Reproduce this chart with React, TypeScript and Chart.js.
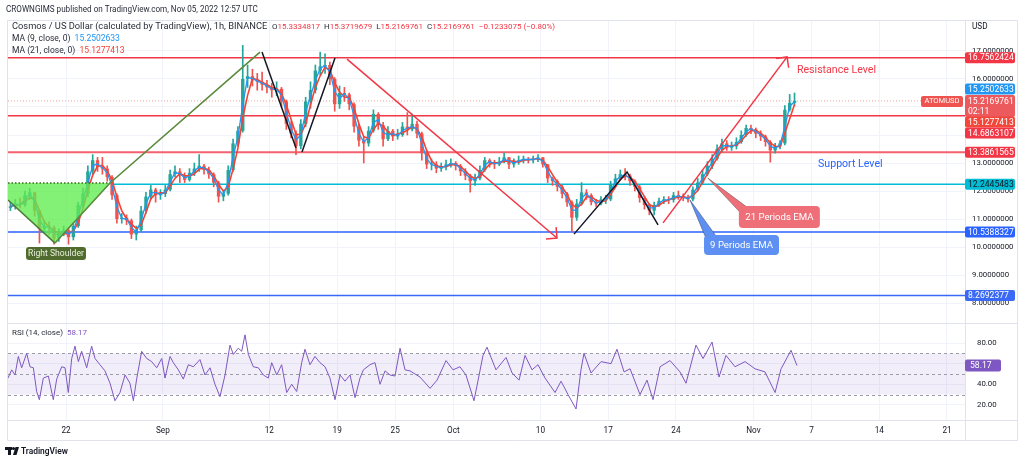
import React, { useEffect, useRef } from 'react';
import { Chart, registerables } from 'chart.js';

Chart.register(...registerables);

// ---------- axis / ticks ----------
const tickDays = [6, 16, 27, 34, 40, 46, 55, 62, 69, 77, 83, 90, 97]; // days since Aug 16, 2022
const tickLabels = ['22', 'Sep', '12', '19', '25', 'Oct', '10', '17', '24', 'Nov', '7', '14', '21'];
const priceTicks = [8, 9, 10, 11, 12, 13, 14, 15, 16, 17];
const rsiTicks = [20, 40, 60, 80];

// ---------- price series (12h candles, starting Aug 16 00:00) ----------
const candleStep = 0.5;
const firstOpen = 11.4;
const closes = [
  11.45, 11.55, 11.5, 11.85, 11.95, 11.3, 10.65, 10.75, 10.7, 10.3,
  10.5, 10.6, 10.35, 10.75, 11.5, 11.9, 12.7, 13.1, 12.85, 12.8,
  12.5, 11.85, 11.0, 11.05, 10.95, 10.45, 10.6, 11.3, 11.8, 12.05,
  11.85, 11.9, 12.05, 12.6, 12.7, 12.55, 12.4, 12.65, 12.8, 12.9,
  12.75, 12.6, 12.3, 11.8, 11.9, 12.75, 13.7, 14.15, 16.0, 16.1,
  15.95, 15.9, 15.8, 15.7, 15.6, 15.65, 15.2, 14.4, 14.05, 13.6,
  14.4, 15.2, 15.6, 16.3, 16.45, 16.5, 16.0, 15.1, 15.5, 15.45,
  15.1, 14.3, 13.8, 13.7, 14.15, 14.75, 14.35, 13.85, 14.15, 13.95,
  14.0, 14.3, 14.2, 14.4, 14.05, 13.35, 12.95, 12.95, 12.8, 12.85,
  12.95, 13.0, 12.9, 12.7, 12.55, 12.35, 12.45, 12.75, 13.1, 13.0,
  12.95, 13.05, 13.2, 12.95, 13.05, 13.1, 13.15, 13.1, 13.15, 13.2,
  12.95, 12.45, 12.35, 12.15, 11.9, 11.6, 11.05, 11.55, 11.95, 11.85,
  11.6, 11.55, 11.7, 11.7, 12.25, 12.45, 12.6, 12.55, 12.35, 12.15,
  11.75, 11.5, 11.3, 11.5, 11.65, 11.7, 11.68, 11.85, 11.8, 11.75,
  11.7, 12.05, 12.3, 12.6, 12.9, 13.15, 13.5, 13.7, 13.55, 13.6,
  13.75, 14.0, 14.25, 14.2, 14.05, 13.95, 13.75, 13.45, 13.6, 13.7,
  14.9, 15.15, 15.22,
];
const highs = [
  11.6, 11.7, 11.75, 12.0, 12.1, 11.95, 11.3, 10.95, 10.9, 10.75,
  10.65, 10.75, 10.7, 10.85, 11.6, 12.1, 12.9, 13.3, 13.2, 13.2,
  12.9, 12.55, 11.9, 11.2, 11.15, 11.0, 10.75, 11.45, 11.95, 12.2,
  12.1, 12.05, 12.2, 12.75, 12.9, 12.8, 12.65, 12.8, 13.0, 13.3,
  12.95, 12.85, 12.65, 12.35, 12.0, 12.9, 13.85, 14.3, 17.2, 16.5,
  16.35, 16.2, 16.25, 15.95, 15.85, 15.9, 15.7, 15.25, 14.5, 14.15,
  14.55, 15.35, 15.9, 16.5, 16.96, 16.9, 16.6, 16.05, 15.75, 15.7,
  15.5, 15.15, 14.4, 13.95, 14.3, 14.9, 14.8, 14.45, 14.3, 14.2,
  14.2, 14.45, 14.8, 14.75, 14.5, 14.1, 13.45, 13.15, 13.05, 13.0,
  13.1, 13.15, 13.05, 12.95, 12.8, 12.6, 12.6, 12.9, 13.2, 13.15,
  13.1, 13.2, 13.35, 13.2, 13.15, 13.25, 13.25, 13.2, 13.25, 13.3,
  13.2, 12.95, 12.5, 12.4, 12.2, 11.95, 11.65, 11.7, 12.3, 12.05,
  11.9, 11.7, 11.8, 11.85, 12.35, 12.6, 12.75, 12.8, 12.6, 12.4,
  12.2, 11.8, 11.55, 11.6, 11.75, 11.8, 11.8, 11.95, 12.0, 11.9,
  11.85, 12.15, 12.45, 12.75, 13.05, 13.3, 13.65, 13.85, 13.8, 13.75,
  13.9, 14.15, 14.35, 14.35, 14.25, 14.15, 14.0, 13.8, 13.7, 13.8,
  15.05, 15.45, 15.5,
];
const lows = [
  11.3, 11.35, 11.4, 11.45, 11.7, 11.1, 10.14, 10.5, 10.45, 10.1,
  10.2, 10.4, 10.1, 10.25, 10.7, 11.4, 11.8, 12.6, 12.7, 12.6,
  12.35, 11.7, 10.85, 10.85, 10.8, 10.3, 10.25, 10.55, 11.2, 11.7,
  11.6, 11.7, 11.8, 12.0, 12.5, 12.3, 12.3, 12.35, 12.55, 12.7,
  12.6, 12.45, 12.15, 11.6, 11.65, 11.85, 12.7, 13.6, 14.1, 15.7,
  15.75, 15.6, 15.6, 15.5, 15.35, 15.4, 15.0, 14.2, 13.9, 13.3,
  13.5, 14.3, 14.95, 15.5, 16.15, 16.2, 15.8, 14.85, 14.95, 15.2,
  14.9, 14.1, 13.6, 13.0, 13.6, 14.1, 14.2, 13.6, 13.8, 13.8,
  13.85, 13.95, 14.0, 14.15, 13.9, 13.1, 12.8, 12.75, 12.65, 12.7,
  12.75, 12.85, 12.75, 12.55, 12.4, 11.96, 12.2, 12.4, 12.7, 12.85,
  12.8, 12.9, 13.0, 12.8, 12.85, 12.95, 13.0, 13.0, 13.0, 13.05,
  12.85, 12.3, 12.2, 12.0, 11.75, 11.45, 10.54, 10.95, 11.5, 11.7,
  11.5, 11.45, 11.5, 11.55, 11.65, 12.2, 12.4, 12.4, 12.2, 12.0,
  11.6, 11.35, 11.15, 11.15, 11.45, 11.55, 11.55, 11.6, 11.7, 11.65,
  11.6, 11.65, 12.0, 12.25, 12.55, 12.8, 13.1, 13.4, 13.45, 13.45,
  13.5, 13.7, 13.95, 14.05, 13.9, 13.8, 13.6, 13.03, 13.35, 13.5,
  13.65, 14.85, 15.05,
];

// ---------- RSI (14) ----------
const rsiDay = [
  0.0, 0.38, 0.72, 1.07, 1.41, 1.93, 2.27, 2.62, 2.96, 3.24,
  3.65, 4.17, 4.68, 5.03, 5.55, 5.89, 6.23, 6.58, 6.92, 7.27,
  7.61, 8.13, 8.64, 8.99, 9.5, 10.02, 10.54, 11.05, 11.57, 12.09,
  12.6, 12.95, 13.29, 13.81, 14.33, 14.84, 15.36, 15.88, 16.22, 16.74,
  17.08, 17.6, 18.11, 18.63, 19.15, 19.83, 20.35, 20.87, 21.38, 21.9,
  22.42, 22.93, 23.28, 23.79, 24.14, 24.48, 24.83, 25.34, 25.86, 26.38,
  26.89, 27.24, 27.76, 28.27, 28.79, 29.31, 29.82, 30.34, 30.68, 31.2,
  31.71, 32.23, 32.75, 33.26, 33.78, 34.3, 34.81, 35.33, 35.85, 36.36,
  36.71, 37.4, 37.91, 38.43, 38.95, 39.46, 39.98, 40.5, 41.01, 41.53,
  42.56, 43.6, 44.32, 45.25, 45.97, 46.69, 47.31, 48.14, 49.07, 49.48,
  50.41, 51.45, 52.07, 52.79, 53.41, 54.13, 54.75, 55.48, 56.51, 57.13,
  57.85, 58.68, 59.19, 59.5, 60.23, 61.26, 62.29, 62.91, 63.64, 64.26,
  65.29, 66.01, 66.63, 67.36, 68.39, 69.42, 70.04, 71.07, 71.8, 72.73,
  73.45, 74.17, 75.1, 76.14, 77.17, 78.2, 79.24, 79.86, 80.89, 81.5,
];
const rsiValue = [
  46, 54, 49, 67, 56, 70, 57, 56, 33, 25,
  46, 48, 25, 45, 57, 56, 32, 65, 77, 62,
  72, 56, 77, 65, 59, 53, 41, 24, 32, 49,
  41, 24, 45, 72, 65, 62, 56, 65, 46, 67,
  61, 54, 45, 59, 57, 64, 49, 56, 40, 28,
  49, 78, 69, 75, 72, 88, 69, 57, 56, 49,
  46, 61, 49, 59, 32, 40, 33, 61, 74, 59,
  67, 61, 57, 46, 25, 49, 43, 49, 27, 46,
  54, 59, 61, 40, 53, 49, 48, 75, 54, 53,
  47, 36, 44, 63, 54, 57, 49, 24, 68, 76,
  54, 66, 51, 44, 68, 54, 59, 46, 32, 43,
  30, 16, 54, 70, 51, 62, 60, 74, 52, 55,
  30, 44, 25, 57, 63, 52, 41, 78, 65, 81,
  47, 68, 57, 62, 55, 52, 32, 55, 73, 58.17,
];

// ---------- horizontal levels ----------
const levelValues = [16.7562424, 14.6863107, 13.3861565, 12.2445483, 10.5388327, 8.2692377];
const levelStartDay = [0, 0, 0, 10.8, 0, 0];
const lastPrice = 15.2169761;
const ma9Last = 15.2502633;
const ma21Last = 15.1277413;
const rsiLast = 58.17;

// ---------- drawings (day, price) ----------
const greenTrendDay = [4.86, 10.54, 26.03];
const greenTrendPrice = [10.14, 12.286, 16.96];
const triangleDay = [0, 10.54, 4.86, 0];
const trianglePrice = [12.286, 12.286, 10.14, 11.68];
const blackADay = [26.24, 29.75];
const blackAPrice = [16.96, 13.54];
const blackBDay = [30.37, 33.78];
const blackBPrice = [13.39, 16.75];
const blackCDay = [58.47, 63.95, 67.15];
const blackCPrice = [10.46, 12.68, 10.79];
const redDownDay = [35.02, 56.71];
const redDownPrice = [16.71, 10.32];
const redUpDay = [67.67, 80.48];
const redUpPrice = [10.86, 16.79];

const FONT = 'Roboto, "Liberation Sans", Arial, sans-serif';
const X_MAX = 98.86;
const Y_MIN = 7.286;
const Y_MAX = 18.107;

function sma(arr: number[], n: number) {
  return arr.map((_, i) => {
    const s = Math.max(0, i - n + 1);
    let sum = 0;
    for (let k = s; k <= i; k++) sum += arr[k];
    return sum / (i - s + 1);
  });
}

function pts(days: number[], vals: number[]) {
  return days.map((d, i) => ({ x: d, y: vals[i] }));
}

function rrect(ctx: CanvasRenderingContext2D, x: number, y: number, w: number, h: number, r: number) {
  ctx.beginPath();
  ctx.moveTo(x + r, y);
  ctx.arcTo(x + w, y, x + w, y + h, r);
  ctx.arcTo(x + w, y + h, x, y + h, r);
  ctx.arcTo(x, y + h, x, y, r);
  ctx.arcTo(x, y, x + w, y, r);
  ctx.closePath();
}

function text(ctx: CanvasRenderingContext2D, s: string, x: number, y: number, color: string, size: number, align: CanvasTextAlign = 'left', weight = 'normal') {
  ctx.font = `${weight} ${size}px ${FONT}`;
  ctx.fillStyle = color;
  ctx.textAlign = align;
  ctx.textBaseline = 'middle';
  ctx.fillText(s, x, y);
}

function segments(ctx: CanvasRenderingContext2D, parts: [string, string, number][], x: number, y: number) {
  let cx = x;
  ctx.textAlign = 'left';
  ctx.textBaseline = 'middle';
  for (const [s, c, size] of parts) {
    ctx.font = `normal ${size}px ${FONT}`;
    ctx.fillStyle = c;
    ctx.fillText(s, cx, y);
    cx += ctx.measureText(s).width;
  }
}

function arrowHead(ctx: CanvasRenderingContext2D, x0: number, y0: number, x1: number, y1: number, color: string) {
  const a = Math.atan2(y1 - y0, x1 - x0) + Math.PI;
  const len = 11;
  ctx.save();
  ctx.strokeStyle = color;
  ctx.lineWidth = 1.5;
  ctx.beginPath();
  ctx.moveTo(x1 + Math.cos(a - Math.PI / 4) * len, y1 + Math.sin(a - Math.PI / 4) * len);
  ctx.lineTo(x1, y1);
  ctx.lineTo(x1 + Math.cos(a + Math.PI / 4) * len, y1 + Math.sin(a + Math.PI / 4) * len);
  ctx.stroke();
  ctx.restore();
}

const overlayPlugin = {
  id: 'overlay',
  beforeDraw(chart: any) {
    const { ctx } = chart;
    ctx.save();
    ctx.fillStyle = '#ffffff';
    ctx.fillRect(0, 0, chart.width, chart.height);
    ctx.restore();
  },
  beforeDatasetsDraw(chart: any) {
    const { ctx, chartArea } = chart;
    const yr = chart.scales.yRsi;
    const y70 = yr.getPixelForValue(70);
    const y50 = yr.getPixelForValue(50);
    const y30 = yr.getPixelForValue(30);
    ctx.save();
    ctx.fillStyle = 'rgba(126,87,194,0.1)';
    ctx.fillRect(chartArea.left, y70, chartArea.right - chartArea.left, y30 - y70);
    ctx.strokeStyle = '#9b9ea6';
    ctx.lineWidth = 1;
    ctx.setLineDash([3, 3]);
    for (const y of [y70, y50, y30]) {
      ctx.beginPath();
      ctx.moveTo(chartArea.left, Math.round(y) + 0.5);
      ctx.lineTo(chartArea.right, Math.round(y) + 0.5);
      ctx.stroke();
    }
    ctx.restore();
  },
  afterDraw(chart: any) {
    const { ctx, chartArea } = chart;
    const xs = chart.scales.x;
    const ys = chart.scales.y;
    const yr = chart.scales.yRsi;
    const X = (d: number) => xs.getPixelForValue(d);
    const Y = (p: number) => ys.getPixelForValue(p);
    ctx.save();

    // frame
    ctx.strokeStyle = '#e0e3eb';
    ctx.lineWidth = 1;
    const sep = Math.round(yr.top) + 0.5;
    const bot = Math.round(chartArea.bottom) + 0.5;
    ctx.beginPath();
    ctx.rect(7.5, 20.5, 1010, bot + 20 - 20.5);
    ctx.moveTo(7.5, sep); ctx.lineTo(1017.5, sep);
    ctx.moveTo(7.5, bot); ctx.lineTo(1017.5, bot);
    ctx.moveTo(Math.round(chartArea.right) + 0.5, 20.5); ctx.lineTo(Math.round(chartArea.right) + 0.5, bot + 20);
    ctx.stroke();

    // arrowheads
    arrowHead(ctx, X(redDownDay[0]), Y(redDownPrice[0]), X(redDownDay[1]), Y(redDownPrice[1]), '#f23645');
    arrowHead(ctx, X(redUpDay[0]), Y(redUpPrice[0]), X(redUpDay[1]), Y(redUpPrice[1]), '#f23645');

    // Right Shoulder label
    ctx.fillStyle = '#4f6b2d';
    rrect(ctx, X(1.86), Y(10.0), 60, 13, 3);
    ctx.fill();
    text(ctx, 'Right Shoulder', X(1.86) + 30, Y(10.0) + 7, '#e9f1dc', 8.6, 'center');

    // callouts
    const tip21x = X(72.3), tip21y = Y(12.46);
    const b21x = X(75.5), b21y = Y(11.46);
    ctx.fillStyle = '#ef6f79';
    ctx.beginPath();
    ctx.moveTo(tip21x, tip21y);
    ctx.lineTo(b21x + 8, b21y + 1);
    ctx.lineTo(b21x + 1, b21y + 6);
    ctx.closePath();
    ctx.fill();
    ctx.strokeStyle = 'rgba(110,80,80,0.7)';
    ctx.lineWidth = 0.8;
    ctx.stroke();
    rrect(ctx, b21x, b21y, 81, 22, 4);
    ctx.fill();
    text(ctx, '21 Periods EMA', b21x + 40.5, b21y + 11.5, '#ffffff', 9.6, 'center');

    const tip9x = X(70.45), tip9y = Y(11.68);
    const b9x = X(71.9), b9y = Y(10.43);
    ctx.fillStyle = '#5d90f2';
    ctx.beginPath();
    ctx.moveTo(tip9x, tip9y);
    ctx.lineTo(b9x + 12, b9y + 1);
    ctx.lineTo(b9x + 1, b9y + 1);
    ctx.closePath();
    ctx.fill();
    ctx.strokeStyle = 'rgba(60,80,130,0.7)';
    ctx.stroke();
    rrect(ctx, b9x, b9y, 75, 20, 4);
    ctx.fill();
    text(ctx, '9 Periods EMA', b9x + 37.5, b9y + 10.5, '#ffffff', 9.6, 'center');

    // level texts
    text(ctx, 'Resistance Level', X(81.5), Y(16.32), '#f23645', 10.6);
    text(ctx, 'Support Level', X(83.68), Y(12.96), '#2962ff', 10.6);

    // header & legends
    text(ctx, 'CROWNGIMS published on TradingView.com, Nov 05, 2022 12:57 UTC', 6, 10, '#2a2e39', 8.15);
    const dark = '#2a2e39';
    const red = '#f23645';
    segments(ctx, [
      ['Cosmos / US Dollar (calculated by TradingView), 1h, BINANCE  ', dark, 9.3],
      ['O', dark, 8.0], ['15.3334817', red, 8.0], ['  H', dark, 8.0], ['15.3719679', red, 8.0], ['  L', dark, 8.0], ['15.2169761', red, 8.0],
      ['  C', dark, 8.0], ['15.2169761', red, 8.0], ['  \u22120.1233075 (\u22120.80%)', red, 8.0],
    ], 12, 27);
    segments(ctx, [['MA (9, close, 0)  ', dark, 8.5], [ma9Last.toFixed(7), '#2196f3', 8.5]], 12, 39);
    segments(ctx, [['MA (21, close, 0)  ', dark, 8.5], [ma21Last.toFixed(7), '#f44336', 8.5]], 12, 51);
    segments(ctx, [['RSI (14, close)  ', dark, 8.0], [rsiLast.toFixed(2), '#7e57c2', 8.0]], 12, Math.round(yr.top) + 10);

    // ATOMUSD tag
    const py = Y(lastPrice);
    ctx.fillStyle = '#ef5350';
    rrect(ctx, 921, py - 5, 42, 11, 2);
    ctx.fill();
    text(ctx, 'ATOMUSD', 942, py + 0.5, '#ffffff', 7.6, 'center');

    // right axis labels
    text(ctx, 'USD', 972, 27, '#131722', 8.2);
    const boxX = 965, boxW = 50;
    const box = (cy: number, bg: string, label: string, fg = '#ffffff') => {
      ctx.fillStyle = bg;
      rrect(ctx, boxX, cy - 5.5, boxW, 11, 2);
      ctx.fill();
      text(ctx, label, boxX + 3, cy + 0.5, fg, 8.6);
    };
    box(Y(levelValues[0]), '#f23645', levelValues[0].toFixed(7));
    box(py - 12, '#2196f3', ma9Last.toFixed(7));
    ctx.fillStyle = '#ec5a5d';
    rrect(ctx, boxX, py - 6, boxW, 22, 2);
    ctx.fill();
    text(ctx, lastPrice.toFixed(7), boxX + 3, py + 0.5, '#ffffff', 8.6);
    text(ctx, '02:11', boxX + 3, py + 10.5, '#ffffff', 8.6);
    box(py + 21, '#f4473a', ma21Last.toFixed(7));
    box(py + 32, '#f23645', levelValues[1].toFixed(7));
    box(Y(levelValues[2]), '#f23645', levelValues[2].toFixed(7));
    box(Y(levelValues[3]), '#00bcd4', levelValues[3].toFixed(7), '#131722');
    box(Y(levelValues[4]), '#2962ff', levelValues[4].toFixed(7));
    box(Y(levelValues[5]), '#3a6af5', levelValues[5].toFixed(7));
    const ry = yr.getPixelForValue(rsiLast);
    ctx.fillStyle = '#7e57c2';
    rrect(ctx, boxX, ry - 6, 36, 12, 2);
    ctx.fill();
    text(ctx, rsiLast.toFixed(2), boxX + 5, ry + 0.5, '#ffffff', 8.6);

    // footer logo
    ctx.fillStyle = '#131722';
    ctx.fillRect(5, 447, 7, 3);
    ctx.fillRect(8, 447, 3, 8);
    ctx.beginPath();
    ctx.arc(13.5, 448.5, 1.6, 0, Math.PI * 2);
    ctx.fill();
    ctx.beginPath();
    ctx.moveTo(15.5, 447); ctx.lineTo(19, 447); ctx.lineTo(16.5, 455); ctx.lineTo(13, 455);
    ctx.closePath();
    ctx.fill();
    text(ctx, 'TradingView', 21, 451.5, '#131722', 8.4, 'left', '600');
    ctx.restore();
  },
};

export default function App() {
  const ref = useRef<HTMLCanvasElement>(null);

  useEffect(() => {
    document.body.style.margin = '0';
    const opens = closes.map((_, i) => (i === 0 ? firstOpen : closes[i - 1]));
    const candleDay = closes.map((_, i) => i * candleStep + candleStep / 2);
    const colors = closes.map((c, i) => (c >= opens[i] ? '#26a69a' : '#ef5350'));
    const hi = highs.map((h, i) => Math.max(h, opens[i], closes[i]));
    const lo = lows.map((l, i) => Math.min(l, opens[i], closes[i]));
    const ma9 = sma(closes, 2);
    const ma21 = sma(closes, 3);

    const levelColors = ['#f23645', '#f23645', '#f5616c', '#00bcd4', '#2962ff', '#3a6af5'];
    const levelWidths = [1.5, 1.5, 2, 1.5, 1.5, 1.5];

    const lineDs = (data: any[], color: string, width: number, order: number, extra: any = {}) => ({
      type: 'line',
      data,
      borderColor: color,
      borderWidth: width,
      pointRadius: 0,
      tension: 0,
      fill: false,
      yAxisID: 'y',
      order,
      ...extra,
    });

    const datasets: any[] = [
      // levels
      ...levelValues.map((v, k) =>
        lineDs([{ x: levelStartDay[k], y: v }, { x: X_MAX, y: v }], levelColors[k], levelWidths[k], 20)
      ),
      lineDs([{ x: 0, y: lastPrice }, { x: X_MAX, y: lastPrice }], 'rgba(239,83,80,0.55)', 1, 19, { borderDash: [1, 2] }),
      // wicks
      {
        type: 'bar',
        data: candleDay.map((d, i) => ({ x: d, y: [lo[i], hi[i]] })),
        backgroundColor: colors,
        barThickness: 1,
        grouped: false,
        yAxisID: 'y',
        order: 12,
      },
      // bodies
      {
        type: 'bar',
        data: candleDay.map((d, i) => ({ x: d, y: [opens[i], closes[i]] })),
        backgroundColor: colors,
        barPercentage: 0.7,
        categoryPercentage: 1,
        minBarLength: 1,
        grouped: false,
        yAxisID: 'y',
        order: 11,
      },
      lineDs(candleDay.map((d, i) => ({ x: d, y: ma21[i] })), '#f44336', 1.6, 9),
      lineDs(candleDay.map((d, i) => ({ x: d, y: ma9[i] })), '#2196f3', 1.3, 8),
      // inverse head & shoulders triangle
      lineDs(pts(triangleDay, trianglePrice), 'rgba(0,0,0,0)', 0, 6, {
        fill: 'shape',
        backgroundColor: 'rgba(96,236,80,0.78)',
      }),
      lineDs(pts([triangleDay[0], triangleDay[1]], [trianglePrice[0], trianglePrice[1]]), '#3d6b22', 1.5, 5, { borderDash: [1.5, 2] }),
      lineDs(pts([triangleDay[3], triangleDay[2]], [trianglePrice[3], trianglePrice[2]]), '#4c7a34', 1.5, 5),
      lineDs(pts(greenTrendDay, greenTrendPrice), '#5b8a3c', 1.6, 4),
      lineDs(pts(blackADay, blackAPrice), '#131722', 1.5, 3),
      lineDs(pts(blackBDay, blackBPrice), '#131722', 1.5, 3),
      lineDs(pts(blackCDay, blackCPrice), '#131722', 1.5, 3),
      lineDs(pts(redDownDay, redDownPrice), '#f23645', 1.5, 2),
      lineDs(pts(redUpDay, redUpPrice), '#f23645', 1.5, 2),
      // RSI
      {
        type: 'line',
        data: pts(rsiDay, rsiValue),
        borderColor: '#7e57c2',
        borderWidth: 1,
        pointRadius: 0,
        tension: 0,
        fill: false,
        yAxisID: 'yRsi',
        order: 1,
      },
    ];

    const tickFont = { family: FONT, size: 7.8 };
    const chart = new Chart(ref.current as HTMLCanvasElement, {
      type: 'bar',
      data: { datasets },
      plugins: [overlayPlugin],
      options: {
        responsive: false,
        animation: false,
        devicePixelRatio: 1,
        events: [],
        layout: { padding: { left: 8, top: 20, right: 6, bottom: 23 } },
        plugins: { legend: { display: false }, tooltip: { enabled: false } },
        scales: {
          x: {
            type: 'linear',
            min: 0,
            max: X_MAX,
            offset: false,
            grid: { color: '#f0f3fa', drawTicks: false, offset: false },
            border: { display: false },
            afterBuildTicks: (a: any) => {
              a.ticks = tickDays.map((v) => ({ value: v }));
            },
            afterFit: (a: any) => {
              a.height = 20;
            },
            ticks: {
              autoSkip: false,
              maxRotation: 0,
              padding: 6,
              color: '#131722',
              font: { family: FONT, size: 8.2 },
              callback: (_v: any, i: number) => tickLabels[i],
            },
          },
          y: {
            type: 'linear',
            position: 'right',
            stack: 'main',
            stackWeight: 303,
            min: Y_MIN,
            max: Y_MAX,
            grid: { color: '#f0f3fa', drawTicks: false },
            border: { display: false },
            afterBuildTicks: (a: any) => {
              a.ticks = priceTicks.map((v) => ({ value: v }));
            },
            afterFit: (a: any) => {
              a.width = 53;
            },
            ticks: {
              padding: 7,
              color: '#131722',
              font: tickFont,
              autoSkip: false,
              callback: (v: any) => Number(v).toFixed(7),
            },
          },
          yRsi: {
            type: 'linear',
            position: 'right',
            stack: 'main',
            stackWeight: 97,
            min: 5.3,
            max: 99.5,
            grid: { color: '#f0f3fa', drawTicks: false },
            border: { display: false },
            afterBuildTicks: (a: any) => {
              a.ticks = rsiTicks.map((v) => ({ value: v }));
            },
            afterFit: (a: any) => {
              a.width = 53;
            },
            ticks: {
              padding: 12,
              color: '#131722',
              font: tickFont,
              autoSkip: false,
              callback: (v: any) => Number(v).toFixed(2),
            },
          },
        },
      } as any,
    } as any);
    return () => chart.destroy();
  }, []);

  return (
    <div style={{ position: 'fixed', left: 0, top: 0, width: 1024, height: 463, background: '#ffffff' }}>
      <canvas ref={ref} width={1024} height={463} style={{ display: 'block', width: 1024, height: 463 }} />
    </div>
  );
}
